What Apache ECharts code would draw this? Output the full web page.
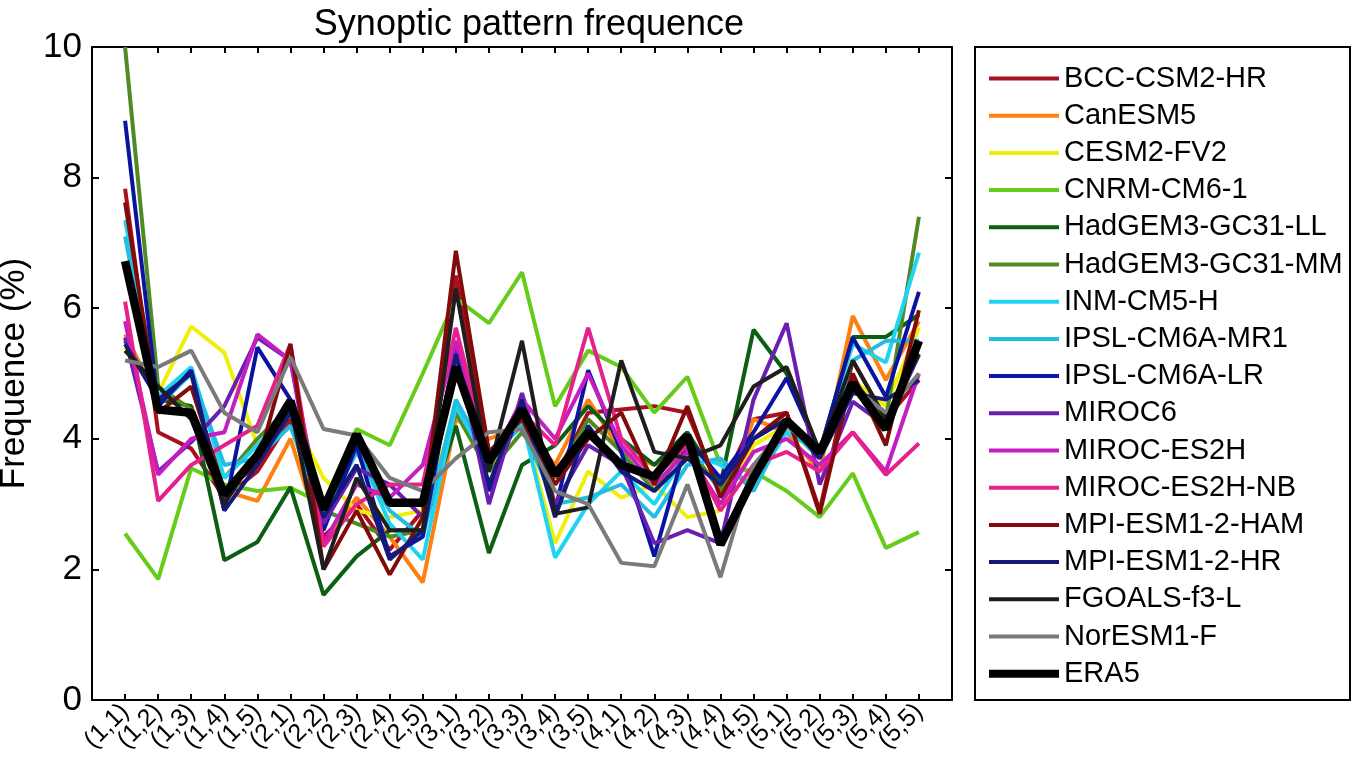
<!DOCTYPE html>
<html lang="en">
  <head>
    <meta charset="UTF-8" />
    <title>Synoptic pattern frequence</title>
    <script src="https://cdn.jsdelivr.net/npm/echarts@6/dist/echarts.min.js"></script>
    <style>
      body {
        margin: 0;
        padding: 0;
        background: #fff;
      }
      #chart {
        width: 1358px;
        height: 772px;
      }
    </style>
  </head>
  <body>
    <div id="chart"></div>

    <script>
      // x categories (synoptic patterns)
      var categories = ['(1,1)', '(1,2)', '(1,3)', '(1,4)', '(1,5)',
        '(2,1)', '(2,2)', '(2,3)', '(2,4)', '(2,5)',
        '(3,1)', '(3,2)', '(3,3)', '(3,4)', '(3,5)',
        '(4,1)', '(4,2)', '(4,3)', '(4,4)', '(4,5)',
        '(5,1)', '(5,2)', '(5,3)', '(5,4)', '(5,5)'];
      var yTicks = [0, 2, 4, 6, 8, 10];

      // frequence (%) per model
      var bccCsm2Hr = [7.83, 4.1, 3.85, 3.1, 3.5, 4.3, 2.5, 3.0, 2.3, 2.9, 6.5, 3.8, 4.2, 3.4, 4.4, 4.45, 4.5, 4.4, 3.2, 4.3, 4.4, 2.9, 5.2, 4.3, 4.9];
      var canEsm5 = [5.6, 4.6, 4.5, 3.2, 3.05, 4.0, 2.4, 3.1, 2.5, 1.8, 4.3, 4.0, 4.2, 3.6, 4.6, 3.8, 3.6, 3.9, 2.9, 4.3, 4.1, 3.5, 5.88, 4.9, 5.8];
      var cesm2Fv2 = [5.4, 4.7, 5.72, 5.32, 3.9, 4.4, 3.4, 2.9, 2.8, 2.9, 4.4, 3.5, 4.3, 2.4, 3.5, 3.1, 3.3, 2.8, 2.9, 3.9, 4.2, 3.7, 4.9, 4.5, 5.7];
      var cnrmCm61 = [2.55, 1.85, 3.55, 3.3, 3.2, 3.25, 3.0, 4.15, 3.9, 5.0, 6.15, 5.77, 6.55, 4.5, 5.35, 5.1, 4.4, 4.95, 3.6, 3.5, 3.2, 2.8, 3.47, 2.33, 2.57];
      var hadGemLL = [5.5, 4.6, 4.5, 2.14, 2.42, 3.26, 1.61, 2.2, 2.6, 2.6, 4.2, 2.25, 3.6, 3.9, 4.5, 4.0, 3.6, 4.1, 3.3, 5.67, 5.0, 3.8, 5.56, 5.56, 5.9];
      var hadGemMM = [10.0, 4.8, 4.45, 3.4, 4.0, 4.5, 2.9, 2.7, 2.5, 2.6, 4.4, 3.5, 4.1, 3.4, 4.3, 3.8, 3.2, 3.9, 3.2, 4.0, 4.3, 3.8, 4.9, 4.3, 7.4];
      var inmCm5H = [7.35, 4.65, 5.1, 3.4, 3.9, 4.45, 2.7, 3.9, 2.7, 2.15, 4.5, 3.6, 4.3, 2.18, 3.0, 3.5, 3.0, 3.8, 3.6, 3.3, 4.1, 3.8, 5.45, 5.17, 6.85];
      var ipslMr1 = [7.1, 4.5, 5.0, 3.6, 3.7, 4.2, 2.8, 3.8, 2.9, 2.5, 4.6, 3.7, 4.2, 3.0, 3.1, 3.3, 2.8, 3.6, 3.7, 3.2, 4.2, 3.7, 5.2, 5.5, 5.5];
      var ipslLr = [8.87, 4.5, 5.05, 2.9, 5.4, 4.6, 2.6, 3.9, 2.2, 2.5, 5.3, 3.2, 4.5, 2.9, 5.05, 3.8, 2.2, 4.0, 3.4, 4.1, 4.93, 3.8, 5.55, 4.64, 6.25];
      var miroc6 = [5.55, 3.5, 3.95, 4.5, 5.55, 5.2, 2.7, 3.55, 3.3, 2.8, 5.4, 3.0, 4.7, 3.0, 3.9, 3.6, 2.4, 2.6, 2.4, 4.6, 5.77, 3.3, 4.57, 4.2, 5.28];
      var mirocEs2h = [5.8, 3.45, 4.0, 4.1, 5.6, 5.2, 2.4, 3.3, 3.1, 3.6, 5.5, 3.6, 4.6, 4.0, 5.0, 3.9, 3.3, 3.8, 3.0, 3.8, 4.0, 3.6, 4.1, 3.5, 5.0];
      var mirocEs2hNb = [6.1, 3.05, 3.6, 3.9, 4.2, 5.45, 2.35, 3.0, 3.3, 3.3, 5.7, 3.7, 4.4, 3.9, 5.7, 4.0, 3.4, 3.9, 2.9, 3.6, 3.8, 3.5, 4.1, 3.45, 3.93];
      var mpiHam = [7.62, 4.4, 4.8, 3.2, 3.6, 5.45, 2.0, 2.9, 1.92, 2.8, 6.88, 3.8, 4.3, 3.3, 4.0, 4.4, 3.3, 4.5, 3.1, 4.0, 4.4, 2.85, 5.0, 3.9, 5.97];
      var mpiHr = [5.45, 4.6, 5.0, 2.9, 3.6, 4.4, 2.8, 3.6, 2.15, 2.6, 5.3, 3.3, 4.6, 2.8, 4.2, 3.5, 3.2, 3.7, 3.3, 4.0, 4.3, 3.7, 4.7, 4.6, 4.9];
      var fgoalsF3L = [5.35, 4.8, 4.3, 3.0, 3.8, 4.5, 2.0, 3.4, 2.6, 2.6, 6.3, 3.5, 5.5, 2.85, 2.95, 5.2, 3.8, 3.7, 3.9, 4.8, 5.1, 3.8, 5.2, 4.3, 5.3];
      var norEsm1F = [5.2, 5.1, 5.35, 4.4, 4.1, 5.25, 4.15, 4.05, 3.4, 3.2, 3.7, 4.1, 4.15, 3.2, 3.0, 2.1, 2.05, 3.3, 1.88, 3.6, 4.2, 3.8, 4.8, 4.4, 5.0];
      var era5 = [6.72, 4.45, 4.4, 3.15, 3.75, 4.58, 2.92, 4.07, 3.02, 3.02, 5.1, 3.65, 4.45, 3.45, 4.1, 3.6, 3.42, 4.05, 2.38, 3.4, 4.28, 3.8, 4.85, 4.15, 5.5];

      var models = [
        { name: 'BCC-CSM2-HR', values: bccCsm2Hr, color: '#a8101e' },
        { name: 'CanESM5', values: canEsm5, color: '#ff7f10' },
        { name: 'CESM2-FV2', values: cesm2Fv2, color: '#f0ee0a' },
        { name: 'CNRM-CM6-1', values: cnrmCm61, color: '#66cc1a' },
        { name: 'HadGEM3-GC31-LL', values: hadGemLL, color: '#0b5e12' },
        { name: 'HadGEM3-GC31-MM', values: hadGemMM, color: '#4f8a24' },
        { name: 'INM-CM5-H', values: inmCm5H, color: '#1ed4f0' },
        { name: 'IPSL-CM6A-MR1', values: ipslMr1, color: '#22bde0' },
        { name: 'IPSL-CM6A-LR', values: ipslLr, color: '#0b14a0' },
        { name: 'MIROC6', values: miroc6, color: '#6a1fb0' },
        { name: 'MIROC-ES2H', values: mirocEs2h, color: '#c21ec4' },
        { name: 'MIROC-ES2H-NB', values: mirocEs2hNb, color: '#e6208c' },
        { name: 'MPI-ESM1-2-HAM', values: mpiHam, color: '#820a0a' },
        { name: 'MPI-ESM1-2-HR', values: mpiHr, color: '#151a78' },
        { name: 'FGOALS-f3-L', values: fgoalsF3L, color: '#1e1e1e' },
        { name: 'NorESM1-F', values: norEsm1F, color: '#7a7a7a' }
      ];

      var font = 'Liberation Sans, Arial, sans-serif';

      var series = models.map(function (m) {
        return {
          name: m.name,
          type: 'line',
          symbol: 'none',
          animation: false,
          lineStyle: { color: m.color, width: 4 },
          itemStyle: { color: m.color },
          data: m.values.map(function (v, i) { return [i + 1, v]; })
        };
      });
      series.push({
        name: 'ERA5',
        type: 'line',
        symbol: 'none',
        animation: false,
        z: 5,
        lineStyle: { color: '#000', width: 8.5 },
        itemStyle: { color: '#000' },
        data: era5.map(function (v, i) { return [i + 1, v]; })
      });

      // legend shows only the line, no dot
      var noDot = { color: 'transparent', borderWidth: 0, opacity: 0 };
      var legendData = models.map(function (m) {
        return { name: m.name, itemStyle: noDot, lineStyle: { width: 4, color: m.color } };
      });
      legendData.push({ name: 'ERA5', itemStyle: noDot, lineStyle: { width: 8, color: '#000' } });

      var frameAxis = {
        axisLine: { show: true, onZero: false, lineStyle: { color: '#000', width: 2 } },
        splitLine: { show: false }
      };

      var chart = echarts.init(document.getElementById('chart'));
      chart.setOption({
        backgroundColor: '#fff',
        animation: false,
        title: {
          text: 'Synoptic pattern frequence',
          left: 524,
          top: 2,
          textAlign: 'center',
          textStyle: { fontFamily: font, fontSize: 36, fontWeight: 'normal', color: '#000' }
        },
        grid: { left: 92, right: 406, top: 47, bottom: 72, containLabel: false, outerBoundsMode: 'none' },
        legend: {
          orient: 'vertical',
          left: 980,
          top: 59,
          itemWidth: 70,
          itemHeight: 14,
          itemGap: 8.2,
          selectedMode: false,
          itemStyle: noDot,
          textStyle: { fontFamily: font, fontSize: 29, color: '#000' },
          data: legendData
        },
        graphic: [{
          type: 'rect',
          shape: { x: 975, y: 47, width: 375, height: 653 },
          style: { fill: 'none', stroke: '#000', lineWidth: 2 }
        }],
        xAxis: [
          Object.assign({
            type: 'value',
            min: 0,
            max: 26,
            interval: 1,
            axisTick: { show: true, inside: true, length: 6, lineStyle: { color: '#000', width: 2 } },
            axisLabel: {
              rotate: 45,
              margin: 8,
              fontFamily: font,
              fontSize: 25,
              color: '#000',
              formatter: function (v) { return categories[v - 1] || ''; }
            }
          }, frameAxis),
          Object.assign({
            type: 'value',
            position: 'top',
            min: 0,
            max: 26,
            interval: 1,
            axisTick: { show: true, inside: true, length: 6, lineStyle: { color: '#000', width: 2 } },
            axisLabel: { show: false }
          }, frameAxis)
        ],
        yAxis: [
          Object.assign({
            type: 'value',
            min: yTicks[0],
            max: yTicks[yTicks.length - 1],
            interval: 2,
            name: 'Frequence (%)',
            nameLocation: 'middle',
            nameGap: 54,
            nameTextStyle: { fontFamily: font, fontSize: 35, color: '#000' },
            axisTick: { show: true, inside: true, length: 7, lineStyle: { color: '#000', width: 2 } },
            axisLabel: { margin: 10, fontFamily: font, fontSize: 35, color: '#000' }
          }, frameAxis),
          Object.assign({
            type: 'value',
            position: 'right',
            min: yTicks[0],
            max: yTicks[yTicks.length - 1],
            interval: 2,
            axisTick: { show: true, inside: true, length: 7, lineStyle: { color: '#000', width: 2 } },
            axisLabel: { show: false }
          }, frameAxis)
        ],
        series: series
      });
    </script>
  </body>
</html>
